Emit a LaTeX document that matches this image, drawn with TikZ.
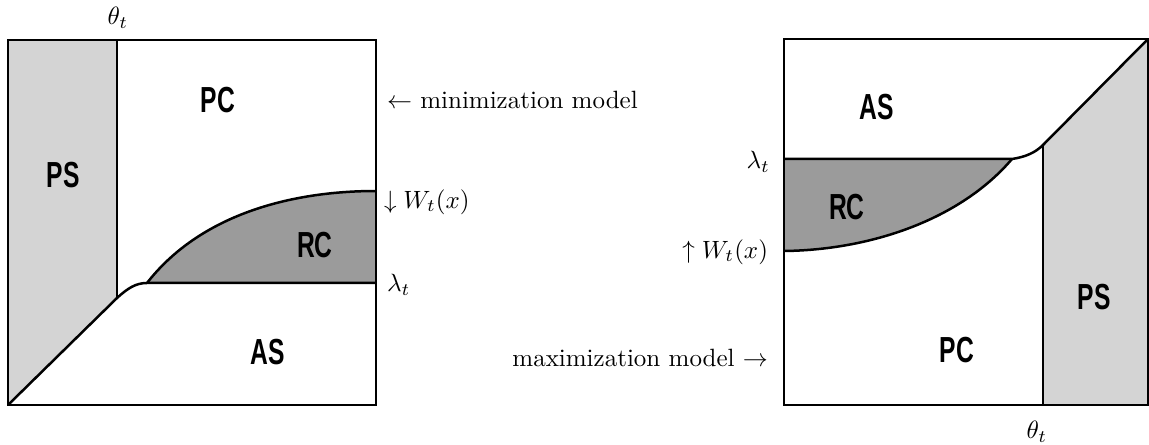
\documentclass[tikz,border=0pt]{standalone}
\usepackage{amsmath, amssymb}
\usepackage{fontspec}
\usepackage{graphicx}
\newfontfamily\zonefont{Liberation Sans}
\definecolor{PSGray}{RGB}{212,212,212}
\definecolor{RCGray}{RGB}{155,155,155}
\usetikzlibrary{positioning, calc}
\newcommand{\zonetxt}[1]{\scalebox{0.68}[1]{#1}}

\begin{document}
\begin{tikzpicture}[x=0.4pt, y=-0.4pt,
				frame/.style={draw=black, line width=0.6pt},
				bound/.style={draw=black, line width=1pt},
				zone/.style={font=\zonefont\bfseries\fontsize{14.5}{15}\selectfont, inner sep=0pt},
				note/.style={font=\normalsize, inner sep=1pt}]
			\useasboundingbox (0,0) rectangle (1149,445);

			% minimization model
			\coordinate (la) at (8,40);
			\coordinate (lb) at (376,405);
			\coordinate (lth) at (117,298);
			\coordinate (llam) at (147,283);
			\coordinate (lw) at (376,191);
			\fill[PSGray] (8,405) -- (lth) -- (117,40) -- (la) -- cycle;
			\fill[RCGray] (llam) .. controls (200,215) and (290,191) .. (lw) -- (376,283) -- cycle;
			\draw[frame] (la) rectangle (lb);
			\draw[frame] (117,40) -- (lth);
			\draw[bound] (8,405) -- (lth) .. controls (128,288) and (136,283) .. (llam) -- (376,283);
			\draw[bound] (llam) .. controls (200,215) and (290,191) .. (lw);

			\node[note] (thl) at (118,18) {$\theta_t$};
			\node[zone] (pcl) at (218,100) {\zonetxt{PC}};
			\node[zone] (psl) at (63,175) {\zonetxt{PS}};
			\node[zone] (rcl) at (315,245) {\zonetxt{RC}};
			\node[zone] (asl) at (268,352) {\zonetxt{AS}};
			\node[note, anchor=west] (minm) at (384,100) {$\leftarrow$ minimization model};
			\node[note, anchor=west] (wl) at (381,202) {$\downarrow W_t(x)$};
			\node[note, anchor=west] (laml) at (384,285) {$\lambda_t$};

			% maximization model
			\coordinate (ra) at (784,39);
			\coordinate (rb) at (1148,405);
			\coordinate (rth) at (1043,145);
			\coordinate (rlam) at (1012,159);
			\coordinate (rw) at (784,251);
			\fill[PSGray] (rth) -- (1148,39) -- (rb) -- (1043,405) -- cycle;
			\fill[RCGray] (rw) .. controls (870,250) and (960,220) .. (rlam) -- (784,159) -- cycle;
			\draw[frame] (ra) rectangle (rb);
			\draw[frame] (rth) -- (1043,405);
			\draw[bound] (784,159) -- (rlam) .. controls (1025,157) and (1035,153) .. (rth) -- (1148,39);
			\draw[bound] (rw) .. controls (870,250) and (960,220) .. (rlam);

			\node[note] (thr) at (1037,432) {$\theta_t$};
			\node[zone] (asr) at (877,107) {\zonetxt{AS}};
			\node[zone] (rcr) at (847,207) {\zonetxt{RC}};
			\node[zone] (pcr) at (957,350) {\zonetxt{PC}};
			\node[zone] (psr) at (1094,297) {\zonetxt{PS}};
			\node[note, anchor=east] (lamr) at (773,162) {$\lambda_t$};
			\node[note, anchor=east] (wr) at (771,252) {$\uparrow W_t(x)$};
			\node[note, anchor=east] (maxm) at (771,358) {maximization model $\rightarrow$};
		\end{tikzpicture}
\end{document}
